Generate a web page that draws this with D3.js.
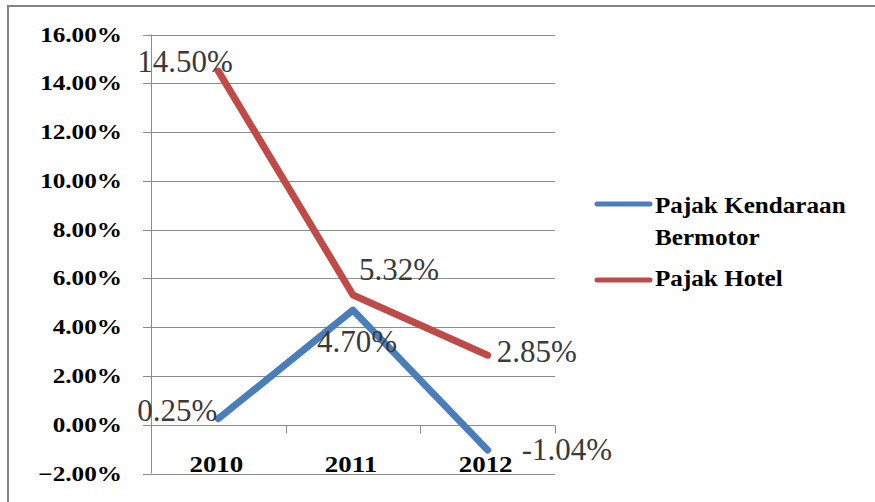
<!DOCTYPE html>
<html>
<head>
<meta charset="utf-8">
<script src="https://cdn.jsdelivr.net/npm/d3@7"></script>
</head>
<body style="margin:0">
<script>
// data
var years = ["2010", "2011", "2012"];
var kendaraan = [0.0025, 0.0470, -0.0104];
var hotel = [0.1450, 0.0532, 0.0285];
var kendaraanLabels = ["0.25%", "4.70%", "-1.04%"];
var hotelLabels = ["14.50%", "5.32%", "2.85%"];
var yTicks = [-0.02, 0, 0.02, 0.04, 0.06, 0.08, 0.10, 0.12, 0.14, 0.16];

var width = 875, height = 502;
var serif = "'Liberation Serif', serif";

var svg = d3.select("body").append("svg")
  .attr("width", width)
  .attr("height", height)
  .style("font-family", serif);

// plot area
var x = d3.scaleBand().domain(years).range([151, 555]);
var y = d3.scaleLinear().domain([-0.02, 0.16]).range([473.5, 34.5]);

// outer frame (only top and left edges are visible in the picture)
svg.append("path")
  .attr("d", "M8,502 V6 H875")
  .attr("fill", "none")
  .attr("stroke", "#858585")
  .attr("stroke-width", 2);

// the picture's text is a bit wide, so stretch with a transform
function place(px, py, k) {
  return "translate(" + px + "," + py + ") scale(" + k + ",1)";
}

// gridlines
svg.append("g").selectAll("line")
  .data(yTicks.filter(function(d) { return d !== 0; }))
  .enter().append("line")
  .attr("x1", 143).attr("x2", 555)
  .attr("y1", function(d) { return Math.round(y(d)) + 0.5; })
  .attr("y2", function(d) { return Math.round(y(d)) + 0.5; })
  .attr("stroke", "#8c8c8c")
  .attr("stroke-width", 1);

// y axis line
svg.append("line")
  .attr("x1", 151.5).attr("x2", 151.5)
  .attr("y1", y(0.16)).attr("y2", y(-0.02))
  .attr("stroke", "#8c8c8c");

// x axis at zero with tick marks between categories
var y0 = Math.round(y(0)) + 0.5;
svg.append("line")
  .attr("x1", 143).attr("x2", 555)
  .attr("y1", y0).attr("y2", y0)
  .attr("stroke", "#8c8c8c");
svg.append("g").selectAll("line")
  .data(years.slice(1).concat(["end"]))
  .enter().append("line")
  .attr("x1", function(d, i) { return Math.round(x.range()[0] + x.step() * (i + 1)) + 0.5; })
  .attr("x2", function(d, i) { return Math.round(x.range()[0] + x.step() * (i + 1)) + 0.5; })
  .attr("y1", y0).attr("y2", y0 + 8)
  .attr("stroke", "#8c8c8c");

// y tick labels
svg.append("g").selectAll("text")
  .data(yTicks)
  .enter().append("text")
  .attr("transform", function(d) { return place(122, y(d) + 7, 1.2); })
  .attr("text-anchor", "end")
  .style("font-family", serif)
  .style("font-size", "21px")
  .style("font-weight", "bold")
  .attr("fill", "#000")
  .text(function(d) { return d3.format(".2%")(d); });

// category labels, low position
svg.append("g").selectAll("text")
  .data(years)
  .enter().append("text")
  .attr("transform", function(d) { return place(x(d) + x.bandwidth() / 2 - 2, 472, 1.17); })
  .attr("text-anchor", "middle")
  .style("font-family", serif)
  .style("font-size", "23px")
  .style("font-weight", "bold")
  .text(function(d) { return d; });

var line = d3.line()
  .x(function(d, i) { return x(years[i]) + x.bandwidth() / 2; })
  .y(function(d) { return y(d); });

var series = [
  {name: "Pajak Kendaraan", values: kendaraan, labels: kendaraanLabels, color: "#4a7ebb",
   offs: [[-81, 2], [-36, 42], [34, 10]]},
  {name: "Pajak Hotel", values: hotel, labels: hotelLabels, color: "#be4b48",
   offs: [[-81, 1], [6, -15], [9, 7]]}
];

series.forEach(function(s) {
  svg.append("path")
    .datum(s.values)
    .attr("d", line)
    .attr("fill", "none")
    .attr("stroke", s.color)
    .attr("stroke-width", 7)
    .attr("stroke-linecap", "round")
    .attr("stroke-linejoin", "round");
});

// data labels
series.forEach(function(s) {
  svg.append("g").selectAll("text")
    .data(s.values)
    .enter().append("text")
    .attr("x", function(d, i) { return x(years[i]) + x.bandwidth() / 2 + s.offs[i][0]; })
    .attr("y", function(d, i) { return y(d) + s.offs[i][1]; })
    .style("font-family", serif)
    .style("font-size", "31px")
    .attr("fill", "#3a3a3a")
    .text(function(d, i) { return s.labels[i]; });
});

// legend
var leg = svg.append("g");
leg.append("line")
  .attr("x1", 597).attr("x2", 650).attr("y1", 204).attr("y2", 204)
  .attr("stroke", series[0].color).attr("stroke-width", 5).attr("stroke-linecap", "round");
leg.append("line")
  .attr("x1", 597).attr("x2", 650).attr("y1", 280).attr("y2", 280)
  .attr("stroke", series[1].color).attr("stroke-width", 5).attr("stroke-linecap", "round");
leg.selectAll("text")
  .data([{t: "Pajak Kendaraan", y: 213}, {t: "Bermotor", y: 245}, {t: "Pajak Hotel", y: 286}])
  .enter().append("text")
  .attr("transform", function(d) { return place(655, d.y, 1.07); })
  .style("font-family", serif)
  .style("font-size", "23.5px")
  .style("font-weight", "bold")
  .text(function(d) { return d.t; });
</script>
</body>
</html>
